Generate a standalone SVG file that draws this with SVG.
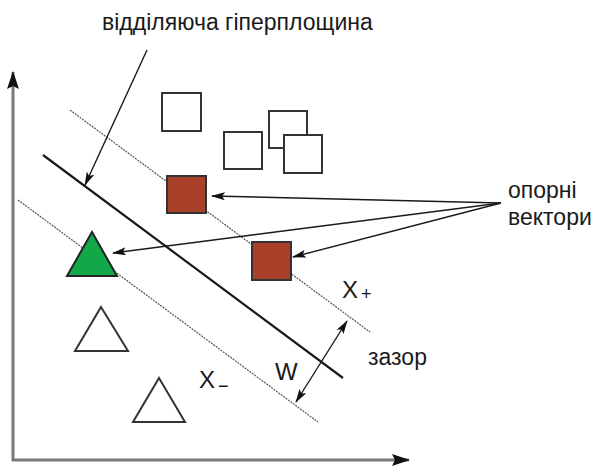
<svg xmlns="http://www.w3.org/2000/svg" width="595" height="475" viewBox="0 0 595 475">
<style>
text{font-family:"Liberation Sans",Arial,sans-serif;fill:#1a1a1a}
.lbl{font-size:23px}
.var{font-size:24px}
.axis{stroke:#7a7a7a;stroke-width:3;fill:none}
.margin{stroke:#555;stroke-width:1.2;stroke-dasharray:2 1;fill:none}
.hyper{stroke:#1a1a1a;stroke-width:2.2;fill:none}
.arr{stroke:#1a1a1a;stroke-width:1.4;fill:none}
.open{fill:#fff;stroke:#333;stroke-width:2}
.sv{fill:#a8402a;stroke:#333;stroke-width:2}
.tri{fill:#fff;stroke:#333;stroke-width:2}
</style>
<defs>
<marker id="ah" viewBox="0 0 14 8" refX="13" refY="4" markerWidth="14" markerHeight="8" markerUnits="userSpaceOnUse" orient="auto-start-reverse">
<path d="M0,0 L14,4 L0,8 L3,4 z" fill="#111"/>
</marker>
<marker id="axh" viewBox="0 0 18 12" refX="17" refY="6" markerWidth="18" markerHeight="12" markerUnits="userSpaceOnUse" orient="auto">
<path d="M0,0 L18,6 L0,12 L3,6 z" fill="#111"/>
</marker>
</defs>
<g id="axes">
<line class="axis" x1="13" y1="461" x2="13" y2="72" marker-end="url(#axh)"/>
<line class="axis" x1="12" y1="460" x2="409" y2="460" marker-end="url(#axh)"/>
</g>
<g id="margins">
<line class="margin" x1="70" y1="110" x2="370" y2="332"/>
<line class="margin" x1="18" y1="200" x2="318" y2="422"/>
</g>
<g id="hyperplane">
<line class="hyper" x1="43" y1="155" x2="343" y2="378"/>
</g>
<g id="class-plus">
<rect class="open" x="162" y="93" width="39" height="38"/>
<rect class="open" x="224" y="132" width="38" height="37"/>
<rect class="open" x="269" y="111" width="38" height="37"/>
<rect class="open" x="284" y="135" width="38" height="38"/>
</g>
<g id="sv-square-1"><rect class="sv" x="167" y="176" width="39" height="37"/></g>
<g id="sv-square-2"><rect class="sv" x="252" y="242" width="39" height="38"/></g>
<g id="sv-triangle"><polygon points="92,232 117,276 67,276" fill="#12a84a" stroke="#222" stroke-width="2"/></g>
<g id="class-minus">
<polygon class="tri" points="101,307 128,351 75,351"/>
<polygon class="tri" points="159,378 185,422 133,422"/>
</g>
<g id="connectors">
<line class="arr" x1="147" y1="50" x2="85" y2="185" marker-end="url(#ah)"/>
<line class="arr" x1="501" y1="203" x2="212" y2="196" marker-end="url(#ah)"/>
<line class="arr" x1="501" y1="203" x2="113" y2="253" marker-end="url(#ah)"/>
<line class="arr" x1="501" y1="203" x2="293" y2="257" marker-end="url(#ah)"/>
<line class="arr" x1="296" y1="402" x2="347" y2="321" marker-start="url(#ah)" marker-end="url(#ah)"/>
</g>
<g id="labels">
<text class="lbl" x="102" y="30">відділяюча гіперплощина</text>
<text class="lbl" x="508" y="198">опорні</text>
<text class="lbl" x="508" y="225">вектори</text>
<text class="lbl" x="368" y="365">зазор</text>
<text class="var" x="342" y="298">X<tspan font-size="18" dx="3" dy="2">+</tspan></text>
<text class="var" x="199" y="388">X<tspan font-size="18" dx="3" dy="4">−</tspan></text>
<text class="var" x="275" y="380">W</text>
</g>
</svg>
